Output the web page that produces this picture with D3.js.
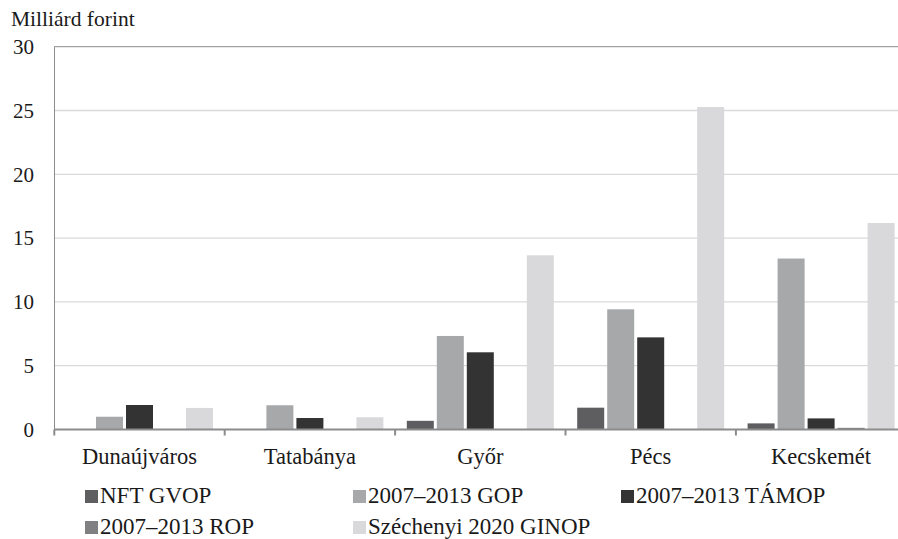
<!DOCTYPE html>
<html>
<head>
<meta charset="utf-8">
<script src="https://cdn.jsdelivr.net/npm/d3@7"></script>
<style>
	body { margin: 0; background: white; }
</style>
</head>
<body>
<svg id="chart" width="898" height="539" style="font-family:'Liberation Serif'"></svg>
<script>
// *********************
// Data
// *********************

const cities = ["Dunaújváros", "Tatabánya", "Győr", "Pécs", "Kecskemét"];
const seriesNames = ["NFT GVOP", "2007–2013 GOP", "2007–2013 TÁMOP", "2007–2013 ROP", "Széchenyi 2020 GINOP"];

const nftGvop = [0, 0, 0.68, 1.71, 0.48];
const gop = [1.0, 1.9, 7.33, 9.42, 13.4];
const tamop = [1.92, 0.9, 6.05, 7.22, 0.87];
const rop = [0, 0, 0, 0, 0.13];
const ginop = [1.69, 0.96, 13.65, 25.27, 16.18];

const yTicks = [0, 5, 10, 15, 20, 25, 30];

const seriesValues = [nftGvop, gop, tamop, rop, ginop];
const colors = ["#5e5e60", "#a7a8aa", "#333333", "#808082", "#d9d9db"];

// *********************
// Basic setup SVG
// *********************

const width = 898;
const height = 539;

const svg = d3.select("#chart");

// *********************
// Scales
// *********************

const x0 = d3.scaleBand()
	.domain(cities)
	.range([54.3, 906.3]);

const x1 = d3.scaleBand()
	.domain(seriesNames)
	.range([0, x0.bandwidth()])
	.paddingInner(0.1)
	.paddingOuter(0.39);

const y = d3.scaleLinear()
	.domain([0, 30])
	.range([429.5, 46.7]);

const color = d3.scaleOrdinal()
	.domain(seriesNames)
	.range(colors);

// *********************
// Grid and axes
// *********************

// Gridlines
svg.append("g")
	.selectAll("line")
	.data(yTicks.filter(d => d > 0 && d < 30))
	.enter()
	.append("line")
	.attr("x1", 54)
	.attr("x2", width)
	.attr("y1", d => y(d))
	.attr("y2", d => y(d))
	.attr("stroke", "#dadada")
	.attr("stroke-width", 1.3);

// Top border
svg.append("line")
	.attr("x1", 54)
	.attr("x2", width)
	.attr("y1", y(30))
	.attr("y2", y(30))
	.attr("stroke", "#8c8c8c")
	.attr("stroke-width", 1);

// Y axis
const yAxis = d3.axisLeft(y)
	.tickValues(yTicks)
	.tickSize(0)
	.tickPadding(20);

const yAxisGroup = svg.append("g")
	.attr("class", "y axis")
	.attr("transform", "translate(54,0)")
	.call(yAxis)
	.attr("font-family", null)
	.attr("font-size", 21);

yAxisGroup.select(".domain")
	.attr("stroke", "#8c8c8c")
	.attr("stroke-width", 1);

yAxisGroup.selectAll("text")
	.attr("fill", "#1a1a1a");

// Y axis label
svg.append("text")
	.attr("x", 11)
	.attr("y", 26)
	.attr("font-size", 21.5)
	.attr("fill", "#1a1a1a")
	.text("Milliárd forint");

// *********************
// Bars
// *********************

const groups = svg.append("g")
	.selectAll("g")
	.data(cities)
	.enter()
	.append("g")
	.attr("transform", d => "translate(" + x0(d) + ",0)");

groups.selectAll("rect")
	.data((city, i) => seriesNames.map((s, j) => ({series: s, value: seriesValues[j][i]})))
	.enter()
	.append("rect")
	.attr("x", d => x1(d.series))
	.attr("width", x1.bandwidth())
	.attr("y", d => y(d.value))
	.attr("height", d => y(0) - y(d.value))
	.attr("fill", d => color(d.series));

// X axis
const xAxis = d3.axisBottom(x0).tickSize(0).tickPadding(19);

const xAxisGroup = svg.append("g")
	.attr("class", "x axis")
	.attr("transform", "translate(0," + y(0) + ")")
	.call(xAxis)
	.attr("font-family", null)
	.attr("font-size", 22.5);

xAxisGroup.select(".domain").remove();

xAxisGroup.selectAll("text")
	.attr("fill", "#1a1a1a");

svg.append("line")
	.attr("x1", 54)
	.attr("x2", width)
	.attr("y1", y(0))
	.attr("y2", y(0))
	.attr("stroke", "#8c8c8c")
	.attr("stroke-width", 2);

// Group separators
svg.append("g")
	.selectAll("line")
	.data(cities)
	.enter()
	.append("line")
	.attr("x1", d => x0(d))
	.attr("x2", d => x0(d))
	.attr("y1", y(0))
	.attr("y2", y(0) + 6)
	.attr("stroke", "#8c8c8c")
	.attr("stroke-width", 2);

// *********************
// Legend
// *********************

const legend = svg.append("g");

seriesNames.forEach((name, i) => {
	const row = legend.append("g")
		.attr("transform", "translate(" + (85 + (i % 3) * 268) + "," + (490 + Math.floor(i / 3) * 31) + ")");

	row.append("rect")
		.attr("width", 13)
		.attr("height", 13)
		.attr("fill", color(name));

	row.append("text")
		.attr("x", 15)
		.attr("y", 13)
		.attr("font-size", 23)
		.attr("fill", "#1a1a1a")
		.text(name);
});
</script>
</body>
</html>
